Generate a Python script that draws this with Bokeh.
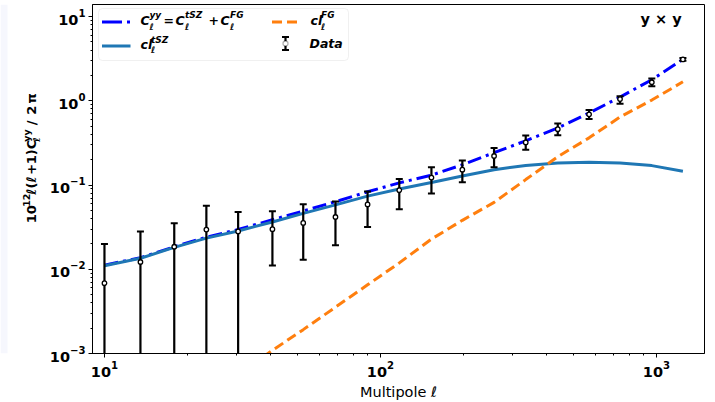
import math
from bokeh.plotting import figure
from bokeh.layouts import row
from bokeh.models import (Range1d, LogTicker, LogTickFormatter, Label, Arrow,
                          TeeHead, BoxAnnotation, ColumnDataSource)
from bokeh.embed import file_html
from bokeh.resources import INLINE

# ---------------- data ----------------
ell = [10.0, 13.5, 17.9, 23.4, 30.5, 40.6, 52.5, 68.7, 89.8, 117, 153, 198,
       258, 336, 439, 570, 738, 962, 1247]

# measured data points and their error-bar ends (1e-4 = bar runs below the axis)
data_y = [0.00684, 0.0122, 0.0185, 0.0296, 0.0281, 0.0299, 0.0355, 0.0417,
          0.0589, 0.0868, 0.1226, 0.152, 0.221, 0.320, 0.460, 0.691, 1.047,
          1.66, 3.10]
data_hi = [0.0199, 0.0281, 0.0352, 0.0569, 0.0479, 0.0487, 0.0590, 0.0638,
           0.0838, 0.118, 0.162, 0.196, 0.275, 0.386, 0.536, 0.776, 1.135,
           1.84, 3.22]
data_lo = [1e-4, 1e-4, 1e-4, 1e-4, 1e-4, 0.0111, 0.0130, 0.0193, 0.0318,
           0.0514, 0.0794, 0.108, 0.162, 0.262, 0.391, 0.608, 0.922, 1.49,
           2.99]

cl_total = [0.0112, 0.0137, 0.0185, 0.0240, 0.0296, 0.0387, 0.0491, 0.0634,
            0.0831, 0.106, 0.131, 0.174, 0.242, 0.335, 0.476, 0.716, 1.106,
            1.78, 3.10]
cl_tsz = [0.0110, 0.0135, 0.0182, 0.0234, 0.0285, 0.0364, 0.0461, 0.0581,
          0.0738, 0.0897, 0.107, 0.128, 0.152, 0.171, 0.183, 0.186, 0.183,
          0.170, 0.146]
ell_fg = [30.5, 40.6, 52.5, 68.7, 89.8, 117, 153, 198, 258, 336, 439, 570,
          738, 962, 1247]
cl_fg = [0.00056, 0.00109, 0.00192, 0.00355, 0.00653, 0.0119, 0.0228, 0.0381,
         0.0622, 0.116, 0.217, 0.363, 0.642, 1.02, 1.68]

# ---------------- layout ----------------
W, H = 715, 402
SW = 44                      # strip on the left carrying the y-axis title
FL, FR, FT, FB = 92, 704, 4, 355
FONT = "DejaVu Sans"

p = figure(width=W - SW, height=H, x_axis_type="log", y_axis_type="log",
           x_range=Range1d(9.05, 1493), y_range=Range1d(1e-3, 13.9),
           output_backend="svg", toolbar_location=None,
           min_border_left=FL - SW, min_border_right=W - FR,
           min_border_top=FT, min_border_bottom=H - FB)
p.grid.visible = False
p.outline_line_color = "black"
p.outline_line_width = 1
p.background_fill_color = "white"
p.border_fill_color = "white"

for ax in (p.xaxis[0], p.yaxis[0]):
    ax.ticker = LogTicker(num_minor_ticks=10)
    ax.formatter = LogTickFormatter()
    ax.major_label_text_font = FONT
    ax.major_label_text_font_style = "bold"
    ax.major_label_text_font_size = "14.5px"
    ax.major_label_text_color = "black"
    ax.axis_line_color = "black"
    ax.major_tick_line_color = "black"
    ax.minor_tick_line_color = "black"
    ax.major_tick_in = 0
    ax.major_tick_out = 4
    ax.minor_tick_in = 0
    ax.minor_tick_out = 2
    ax.major_label_standoff = 3

p.xaxis.axis_label = "Multipole ℓ"
p.xaxis.axis_label_text_font = FONT
p.xaxis.axis_label_text_font_style = "normal"
p.xaxis.axis_label_text_font_size = "14.5px"
p.xaxis.axis_label_text_color = "black"
p.xaxis.axis_label_standoff = 4

# ---------------- curves ----------------
p.line(ell, cl_total, line_color="#0000ff", line_width=3, line_dash="14 5 3 5")
p.line(ell, cl_tsz, line_color="#1f77b4", line_width=3)
p.line(ell_fg, cl_fg, line_color="#ff7f0e", line_width=3, line_dash="10 5")

# ---------------- data with error bars ----------------
src = ColumnDataSource(dict(ell=ell, y=data_y, lo=data_lo, hi=data_hi))
p.segment(x0="ell", y0="lo", x1="ell", y1="hi", source=src,
          line_color="black", line_width=2.2)
p.scatter(x="ell", y="hi", source=src, marker="dash", size=7,
          line_color="black", line_width=2)
p.scatter(x="ell", y="lo", source=src, marker="dash", size=7,
          line_color="black", line_width=2)
p.scatter(x="ell", y="y", source=src, marker="circle", size=4.5,
          fill_color="white", line_color="black", line_width=1.3)


# ---------------- helpers for annotations (canvas px -> frame screen) ----
def sx(X):
    return X - FL


def sy(Y):
    return FB - Y


def txt(X, Y, s, size, style="bold italic"):
    p.add_layout(Label(x=sx(X), y=sy(Y), x_units="screen", y_units="screen",
                       text=s, text_font=FONT, text_font_size=f"{size}px",
                       text_font_style=style, text_color="black",
                       text_align="left", text_baseline="middle"))


# legend frame
p.add_layout(BoxAnnotation(left=sx(98), right=sx(348), top=sy(10), bottom=sy(62),
                           left_units="screen", right_units="screen",
                           top_units="screen", bottom_units="screen",
                           fill_color="white", fill_alpha=0.8,
                           line_color="#cccccc", line_width=1, border_radius=4))

# legend samples
p.add_layout(Arrow(end=None, x_start=sx(101.5), y_start=sy(23.5), x_end=sx(130),
                   y_end=sy(23.5), start_units="screen", end_units="screen",
                   line_color="#0000ff", line_width=3, line_dash="20 5 3 5"))
p.add_layout(Arrow(end=None, x_start=sx(101.5), y_start=sy(47.5), x_end=sx(130),
                   y_end=sy(47.5), start_units="screen", end_units="screen",
                   line_color="#1f77b4", line_width=3))
p.add_layout(Arrow(end=None, x_start=sx(271.5), y_start=sy(23.5), x_end=sx(300),
                   y_end=sy(23.5), start_units="screen", end_units="screen",
                   line_color="#ff7f0e", line_width=3, line_dash="10 5"))
p.add_layout(Arrow(start=TeeHead(size=7, line_width=2, line_color="black"),
                   end=TeeHead(size=7, line_width=2, line_color="black"),
                   x_start=sx(285), y_start=sy(51.5), x_end=sx(285), y_end=sy(38.5),
                   start_units="screen", end_units="screen",
                   line_color="black", line_width=2.2))
p.add_layout(BoxAnnotation(left=sx(282.5), right=sx(287.5), top=sy(42.5), bottom=sy(47.5),
                           left_units="screen", right_units="screen",
                           top_units="screen", bottom_units="screen",
                           fill_color="white", fill_alpha=1.0, line_color="black",
                           line_width=1.3, border_radius=3))

# legend texts
B, S = 12.5, 9
txt(140, 22, "C", B)
txt(149, 16.5, "yy", S)
txt(149, 28, "ℓ", S)
txt(163, 22, "=", B, "bold")
txt(175, 22, "C", B)
txt(184.5, 16.5, "tSZ", S)
txt(184.5, 28, "ℓ", S)
txt(208, 22, "+", B, "bold")
txt(220, 22, "C", B)
txt(229.5, 16.5, "FG", S)
txt(229.5, 28, "ℓ", S)

txt(140, 46, "cl", B)
txt(150.5, 41.5, "tSZ", S)
txt(150.5, 51.5, "ℓ", S)

txt(310, 22, "cl", B)
txt(320.5, 16.5, "FG", S)
txt(320.5, 28, "ℓ", S)

txt(309, 45, "Data", B)

# panel tag
txt(640, 20, "y × y", 14.5, "bold")

# ---------------- left strip with the rotated y-axis title ----------------
s = figure(width=SW, height=H, x_range=Range1d(0, SW), y_range=Range1d(0, H),
           x_axis_type=None, y_axis_type=None, output_backend="svg",
           toolbar_location=None, min_border=0)
s.grid.visible = False
s.outline_line_color = None
s.background_fill_color = "white"
s.border_fill_color = "white"
s.add_layout(BoxAnnotation(left=0, right=7, bottom=0, top=H,
                           fill_color="#f6f7fd", fill_alpha=1.0, line_color=None))

R = math.pi / 2


def ylab(X, Y, t, size):
    s.add_layout(Label(x=X, y=H - Y, text=t, text_font=FONT,
                       text_font_size=f"{size}px", text_font_style="bold",
                       text_color="black", text_align="left",
                       text_baseline="middle", angle=R))


ylab(31, 252, "10", 13)
ylab(26, 233, "12", 9.5)
ylab(31, 219, "ℓ(ℓ", 13)
ylab(31, 196, "+", 13)
ylab(31, 184, "1)C", 13)
ylab(26, 158, "yy", 9.5)
ylab(35.5, 158, "ℓ", 9.5)
ylab(31, 139, "/", 13)
ylab(31, 127, "2", 13)
ylab(31, 114, "π", 13)

layout = row(s, p, spacing=0)
open("out.html", "w").write(file_html(layout, INLINE))
